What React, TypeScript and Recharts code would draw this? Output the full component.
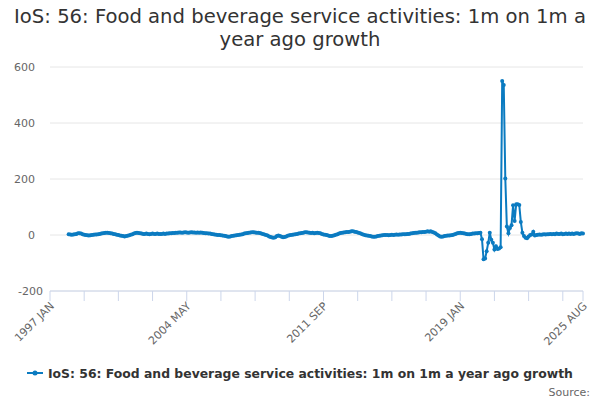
import { LineChart, Line, XAxis, YAxis, CartesianGrid } from "recharts";

const title = "IoS: 56: Food and beverage service activities: 1m on 1m a year ago growth";
const seriesName = "IoS: 56: Food and beverage service activities: 1m on 1m a year ago growth";

const years = [
  1997, 1998, 1999, 2000, 2001, 2002, 2003, 2004, 2005, 2006, 2007, 2008, 2009, 2010, 2011,
  2012, 2013, 2014, 2015, 2016, 2017, 2018, 2019, 2020, 2021, 2022, 2023, 2024, 2025,
];
const monthNames = ["JAN", "FEB", "MAR", "APR", "MAY", "JUN", "JUL", "AUG", "SEP", "OCT", "NOV", "DEC"];
const lastMonthCount = 8; // 2025 runs to AUG

// one row per year, JAN..DEC
const growth: (number | null)[] = [
  null, null, null, null, null, null, null, null, null, null, null, null, // 1997
  3, 2, 1, 2, 3, 4, 6, 6, 5, 3, 1, 0, // 1998
  -1, -2, -1, 0, 1, 2, 2, 3, 4, 5, 6, 7, // 1999
  8, 8, 7, 6, 5, 4, 3, 1, 0, -2, -3, -4, // 2000
  -5, -4, -3, -1, 1, 3, 5, 7, 8, 7, 6, 5, // 2001
  4, 4, 5, 4, 3, 4, 5, 4, 4, 5, 4, 4, // 2002
  4, 5, 4, 5, 5, 6, 6, 7, 7, 8, 8, 9, // 2003
  9, 8, 9, 10, 9, 8, 9, 10, 9, 9, 8, 9, // 2004
  8, 9, 8, 7, 6, 6, 5, 5, 4, 3, 2, 1, // 2005
  0, 0, -1, -2, -3, -4, -5, -6, -5, -4, -3, -2, // 2006
  -1, 0, 1, 2, 3, 5, 6, 7, 8, 9, 10, 10, // 2007
  9, 8, 8, 7, 5, 4, 2, 0, -2, -5, -7, -9, // 2008
  -10, -8, -4, -2, -4, -6, -8, -7, -5, -3, -1, 0, // 2009
  1, 2, 3, 4, 5, 6, 7, 8, 10, 10, 9, 8, // 2010
  7, 8, 6, 7, 8, 7, 6, 4, 2, 1, 0, -2, // 2011
  -4, -4, -3, -1, 1, 3, 5, 7, 8, 9, 10, 11, // 2012
  11, 12, 13, 13, 12, 11, 9, 7, 5, 3, 1, -1, // 2013
  -2, -3, -4, -5, -6, -6, -5, -4, -3, -2, -1, 0, // 2014
  0, 0, -1, 0, 1, 0, 1, 2, 1, 2, 2, 3, // 2015
  3, 3, 4, 4, 5, 6, 7, 8, 8, 9, 10, 10, // 2016
  11, 11, 12, 13, 12, 13, 11, 9, 6, 2, -2, -5, // 2017
  -6, -5, -4, -3, -2, -2, -1, 0, 2, 4, 6, 7, // 2018
  8, 7, 6, 5, 4, 3, 3, 4, 5, 5, 6, 6, // 2019
  7, 8, -15, -87, -84, -58, -28, 8, -17, -28, -52, -40, // 2020
  -50, -48, -44, 550, 536, 202, 30, 6, 25, 35, 106, 50, // 2021
  110, 110, 107, 46, 8, -4, -10, -12, -5, 0, 2, 12, // 2022
  -2, 0, 1, 2, 1, 2, 3, 2, 3, 3, 4, 3, // 2023
  4, 3, 5, 4, 4, 5, 3, 4, 5, 4, 5, 4, // 2024
  5, 4, 5, 6, 5, 4, 6, 5, // 2025
];

const tickMonths = [
  "1997 JAN", "1998 NOV", "2000 SEP", "2002 JUL", "2004 MAY", "2006 MAR", "2008 JAN", "2009 NOV",
  "2011 SEP", "2013 JUL", "2015 MAY", "2017 MAR", "2019 JAN", "2020 NOV", "2022 SEP", "2024 JUL", "2025 AUG",
];
const labelledMonths = ["1997 JAN", "2004 MAY", "2011 SEP", "2019 JAN", "2025 AUG"];
const yTicks = [-200, 0, 200, 400, 600];

const months: string[] = [];
years.forEach((y, yi) => {
  const n = yi === years.length - 1 ? lastMonthCount : 12;
  for (let m = 0; m < n; m++) months.push(`${y} ${monthNames[m]}`);
});
const data = months.map((month, i) => ({ month, growth: growth[i] }));

const blue = "#0b7bc1";
const font = "'DejaVu Sans', sans-serif";

function MonthTick(props: any) {
  const { x, y, payload } = props;
  if (!labelledMonths.includes(payload.value)) return <g />;
  return (
    <text
      transform={`translate(${x + 2},${y + 3}) rotate(-45)`}
      textAnchor="end"
      dy="0.35em"
      fontSize={11}
      fill="#666"
      fontFamily={font}
    >
      {payload.value}
    </text>
  );
}

function ValueTick(props: any) {
  const { y, payload } = props;
  const right = payload.value === -200 ? 43 : 35;
  return (
    <text x={right} y={y} dy="0.35em" textAnchor="end" fontSize={11} fill="#666" fontFamily={font}>
      {payload.value}
    </text>
  );
}

export default function App() {
  return (
    <div style={{ position: "absolute", left: 0, top: 0, width: 600, height: 400, background: "#fff", fontFamily: font }}>
      <div
        style={{
          position: "absolute",
          top: 5,
          left: 0,
          width: 600,
          textAlign: "center",
          fontSize: 19.6,
          lineHeight: "23px",
          color: "#333",
          whiteSpace: "nowrap",
        }}
      >
        IoS: 56: Food and beverage service activities: 1m on 1m a
        <br />
        year ago growth
      </div>
      <div style={{ position: "absolute", left: 0, top: 0 }}>
        <LineChart width={600} height={400} data={data} margin={{ top: 67, right: 17, bottom: 49, left: 0 }}>
          <CartesianGrid vertical={false} stroke="#e6e6e6" />
          <XAxis
            dataKey="month"
            ticks={tickMonths}
            interval={0}
            tick={<MonthTick />}
            tickSize={10}
            tickMargin={0}
            height={60}
            stroke="#ccd6eb"
            tickLine={{ stroke: "#ccd6eb" }}
            axisLine={{ stroke: "#ccd6eb" }}
          />
          <YAxis
            domain={[-200, 600]}
            ticks={yTicks}
            width={50}
            axisLine={false}
            tickLine={false}
            tick={<ValueTick />}
          />
          <Line
            type="linear"
            dataKey="growth"
            name={seriesName}
            stroke={blue}
            strokeWidth={2}
            dot={{ r: 2, fill: blue, stroke: blue, strokeWidth: 0 }}
            isAnimationActive={false}
          />
        </LineChart>
      </div>
      <div
        style={{
          position: "absolute",
          top: 365,
          left: 27,
          display: "flex",
          alignItems: "center",
          height: 16,
        }}
      >
        <svg width={17} height={16}>
          <line x1={0} y1={8} x2={16} y2={8} stroke={blue} strokeWidth={2} />
          <circle cx={8} cy={8} r={2.5} fill={blue} />
        </svg>
        <span style={{ marginLeft: 4, fontSize: 12.4, fontWeight: "bold", color: "#333", whiteSpace: "nowrap" }}>
          {title}
        </span>
      </div>
      <div style={{ position: "absolute", top: 386, right: 10, fontSize: 11, color: "#666" }}>Source:</div>
    </div>
  );
}
